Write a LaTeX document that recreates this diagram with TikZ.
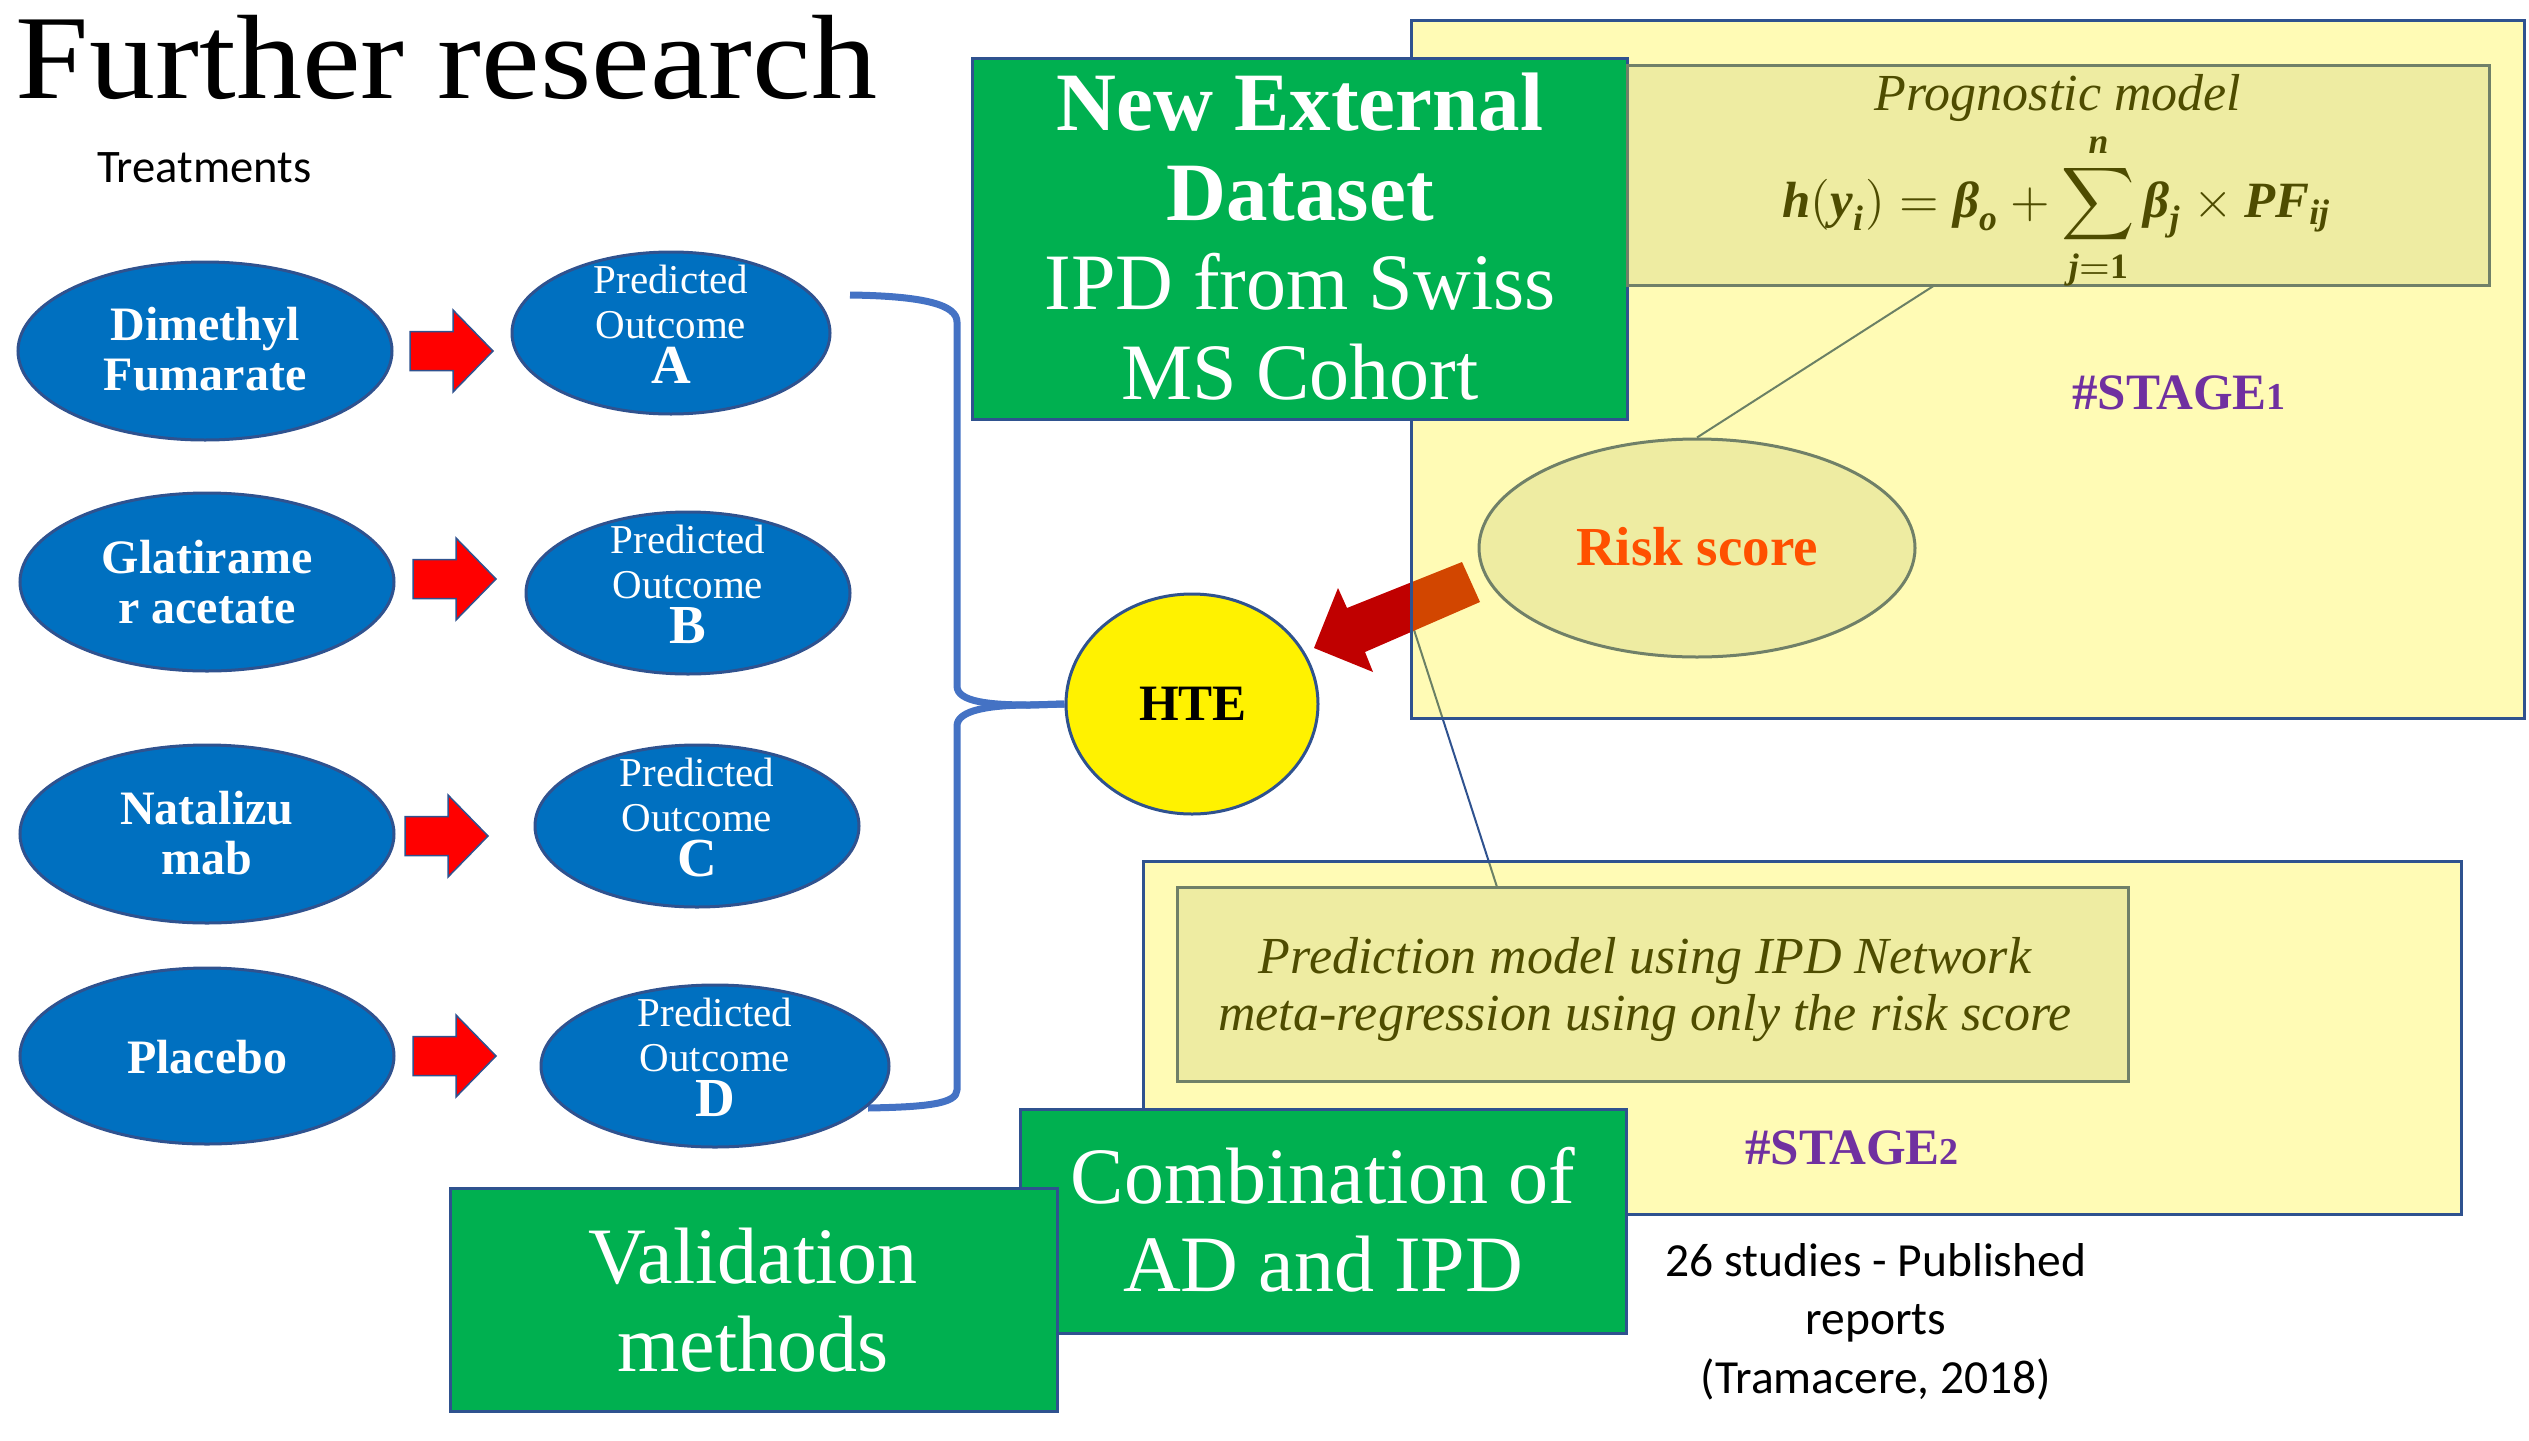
\documentclass[tikz,border=0pt]{standalone}
\usepackage{fontspec}
\setmainfont{Liberation Serif}
\newfontfamily\sansf{Carlito}
\usepackage{amsmath}
\usetikzlibrary{shapes.geometric,calc}
\definecolor{cellblue}{HTML}{0070C0}
\definecolor{edgeblue}{HTML}{2F528F}
\definecolor{bracecol}{HTML}{4472C4}
\definecolor{boxgreen}{HTML}{00B050}
\definecolor{arrowred}{HTML}{FF0000}
\definecolor{bigred}{HTML}{C00000}
\definecolor{khaki}{HTML}{EEECA2}
\definecolor{khakiedge}{RGB}{112,128,104}
\definecolor{olive}{RGB}{78,76,0}
\definecolor{stagepurple}{HTML}{7030A0}
\definecolor{riskorange}{HTML}{FF5000}
\pgfdeclarelayer{under}
\pgfdeclarelayer{veil}
\pgfsetlayers{under,veil,main}
\newcommand\fs[2]{\fontsize{#1}{#2}\selectfont}
% bold italic symbol taken from the text font
\newcommand\bi[1]{\text{\bfseries\itshape #1}}
% red block arrow: tail x, head base x, tip x, centre y
\newcommand\redarrow[4]{%
  \draw[blockarrow] (#1,#4-19.5) -- (#2,#4-19.5) -- (#2,#4-41) -- (#3,#4)
    -- (#2,#4+41) -- (#2,#4+19.5) -- (#1,#4+19.5) -- cycle;}

\begin{document}
\begin{tikzpicture}[x=1pt,y=-1pt,
  txt/.style={inner sep=0pt, outer sep=0pt},
  treat/.style={ellipse, fill=cellblue, draw=edgeblue, line width=3pt, inner sep=0pt},
  treattxt/.style={txt, text=white, align=center, font=\bfseries\fs{48}{50}},
  outell/.style={ellipse, fill=cellblue, draw=edgeblue, line width=3pt, inner sep=0pt, minimum height=162pt},
  outtxt/.style={txt, text=white, align=center, font=\fs{41}{45.5}},
  greenbox/.style={rectangle, fill=boxgreen, draw=edgeblue, line width=3pt, inner sep=0pt},
  greentxt/.style={txt, text=white, align=center, font=\fs{80}{89.5}},
  stagebox/.style={rectangle, fill=yellow, fill opacity=0.29, draw=edgeblue, line width=3pt, inner sep=0pt},
  khakibox/.style={rectangle, fill=khaki, draw=khakiedge, line width=3pt, inner sep=0pt},
  stagetxt/.style={txt, text=stagepurple, font=\bfseries\fs{51}{51}},
  callout/.style={draw=edgeblue, line width=2pt},
  blockarrow/.style={fill=arrowred, draw=edgeblue, line width=1.5pt, line join=miter},
  brace/.style={draw=bracecol, line width=7pt, line join=round, line cap=butt},
]
\useasboundingbox (0,0) rectangle (2529,1440);

% headings
\node[txt, anchor=base west, font=\fs{120}{120}] (title) at (16,98) {\scalebox{1.1}[1]{Further research}};
\node[txt, anchor=base west, font=\sansf\fs{46.6}{50}] (treatments) at (97,182) {Treatments};

% brace gathering the predicted outcomes into HTE
\coordinate (braceTop) at (850,295);
\coordinate (braceBot) at (868,1108);
\node[ellipse, fill=yellow, draw=edgeblue, line width=3pt, inner sep=0pt,
      minimum width=252pt, minimum height=220pt] (hte) at (1192,704) {};
\draw[brace] (braceTop) .. controls (925,296) and (957,305) .. (957,322) -- (957,686)
  .. controls (957,702) and (990,705) .. (1030,705) -- (hte.west);
\draw[brace] (hte.west) -- (1030,705) .. controls (990,705) and (957,710) .. (957,726)
  -- (957,1090) .. controls (957,1104) and (925,1107) .. (braceBot);
\node[txt, anchor=base, font=\bfseries\fs{51}{51}] (hte-t) at (1193,720) {HTE};

% treatments
\node[treat, minimum width=374pt, minimum height=178pt] (dmf) at (205,351) {};
\node[treattxt, anchor=base] (dmf-t) at (205,390) {Dimethyl\\Fumarate};
\node[treat, minimum width=374pt, minimum height=178pt] (gla) at (207,582) {};
\node[treattxt, anchor=base] (gla-t) at (207,623) {Glatirame\\r acetate};
\node[treat, minimum width=374pt, minimum height=178pt] (nat) at (207,834) {};
\node[treattxt, anchor=base] (nat-t) at (207,874) {Natalizu\\mab};
\node[treat, minimum width=374pt, minimum height=176pt] (pla) at (207,1056) {};
\node[treattxt, anchor=base] (pla-t) at (207,1073) {Placebo};

% predicted outcomes
\foreach \n/\x/\y/\w in {A/671/333/318, B/688/593/324, C/697/826/324, D/715/1066/348} {
  \node[outell, minimum width=\w pt] (out\n) at (\x,\y) {};
  \node[outtxt, anchor=base] (out\n-t) at ($(out\n)+(0,50)$)
    {Predicted\\Outcome\\[-1pt]{\bfseries\fs{55}{55}\n}};
}

% arrows from treatment to outcome
\redarrow{410}{453}{493}{351}
\redarrow{413}{456}{496}{579}
\redarrow{405}{448}{488}{836}
\redarrow{413}{456}{496}{1056}

% stage panels
\begin{pgfonlayer}{veil}
  \node[stagebox, minimum width=1113pt, minimum height=698pt] (stage1) at (1967.5,369) {};
  \node[stagebox, minimum width=1318pt, minimum height=353pt] (stage2) at (1802,1037.5) {};
\end{pgfonlayer}

\node[greenbox, minimum width=655pt, minimum height=361pt] (newdata) at (1299.5,238.5) {};
\node[greentxt, anchor=base] (newdata-t) at (1300,399)
  {{\bfseries\fs{83}{89.5}New External}\\{\bfseries\fs{83}{89.5}Dataset}\\IPD from Swiss\\MS Cohort};

\node[khakibox, minimum width=862pt, minimum height=220pt] (prog) at (2058,175) {};
\node[txt, anchor=base, text=olive, font=\itshape\fs{52}{52}] (prog-t) at (2058,110) {Prognostic model};
\node[txt, anchor=base, text=olive] (formula) at (2057,217)
  {\resizebox{549pt}{!}{$\displaystyle \bi{h}(\bi{y}_{\bi{i}}) = \bi{β}_{\bi{o}}
     + \sum_{\bi{j}=\mathbf{1}}^{\bi{n}} \bi{β}_{\bi{j}} \times \bi{PF}_{\bi{ij}}$}};

\node[ellipse, fill=khaki, draw=khakiedge, line width=3pt, inner sep=0pt,
      minimum width=436pt, minimum height=218pt] (risk) at (1697,548) {};
\node[txt, anchor=base, text=riskorange, font=\bfseries\fs{55}{55}] (risk-t) at (1697,565) {Risk score};

\node[stagetxt, anchor=base] (stage1-t) at (2179,409) {\#STAGE{\fs{38}{38}1}};

% stage 2
\node[khakibox, minimum width=951pt, minimum height=194pt] (meta) at (1652.5,984) {};
\node[txt, anchor=base, align=center, text=olive, font=\itshape\fs{52}{57}] (meta-t) at (1645,1030)
  {Prediction model using IPD Network\\meta-regression using only the risk score};
\node[stagetxt, anchor=base] (stage2-t) at (1852,1164) {\#STAGE{\fs{38}{38}2}};

\node[greenbox, minimum width=606pt, minimum height=224pt] (combo) at (1323,1221) {};
\node[greentxt, anchor=base, font=\fs{80}{88}] (combo-t) at (1323,1291) {Combination of\\AD and IPD};
\node[greenbox, minimum width=607pt, minimum height=223pt] (valid) at (753.5,1299.5) {};
\node[greentxt, anchor=base, font=\fs{80}{88}] (valid-t) at (753,1371) {Validation\\methods};

\node[txt, anchor=base, align=center, font=\sansf\fs{47.5}{58.5}] (studies) at (1876,1393)
  {26 studies - Published\\reports\\(Tramacere, 2018)};

% callouts and the risk-score arrow, seen through the stage panels
\coordinate (progFoot) at (1935,285);
\coordinate (arrowFoot) at (1405,602);
\coordinate (metaTop) at (1497,887);
\begin{pgfonlayer}{under}
  \draw[callout] (progFoot) -- (risk.north);
  \draw[callout] (arrowFoot) -- (metaTop);
  \fill[bigred] (1462,562) -- (1347,608) -- (1338,588) -- (1314,648)
    -- (1373,672) -- (1365,652) -- (1480,602) -- cycle;
\end{pgfonlayer}
\end{tikzpicture}
\end{document}
